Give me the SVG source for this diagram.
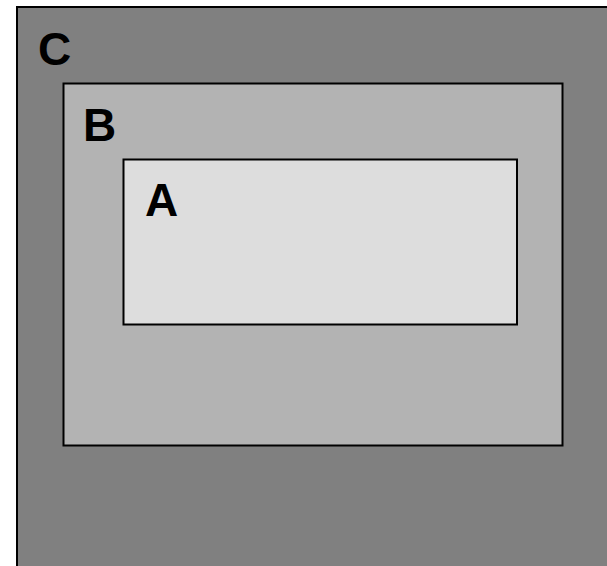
<svg xmlns="http://www.w3.org/2000/svg" width="607" height="566" viewBox="0 0 607 566">
<style>
.box{stroke:#000;stroke-width:2}
.lbl{font-family:"Liberation Sans",Arial,sans-serif;font-weight:bold;font-size:46px;fill:#000}
</style>
<rect width="607" height="566" fill="#fff"/>
<g id="C">
<rect class="box" x="17" y="7" width="600" height="570" fill="#808080"/>
<text class="lbl" x="38" y="65">C</text>
</g>
<g id="B">
<rect class="box" x="63.5" y="83.5" width="499" height="362" fill="#b3b3b3"/>
<text class="lbl" x="83" y="141">B</text>
</g>
<g id="A">
<rect class="box" x="123.5" y="159.5" width="393.5" height="165" fill="#dddddd"/>
<text class="lbl" x="145" y="216">A</text>
</g>
<g id="connectors"/>
</svg>
